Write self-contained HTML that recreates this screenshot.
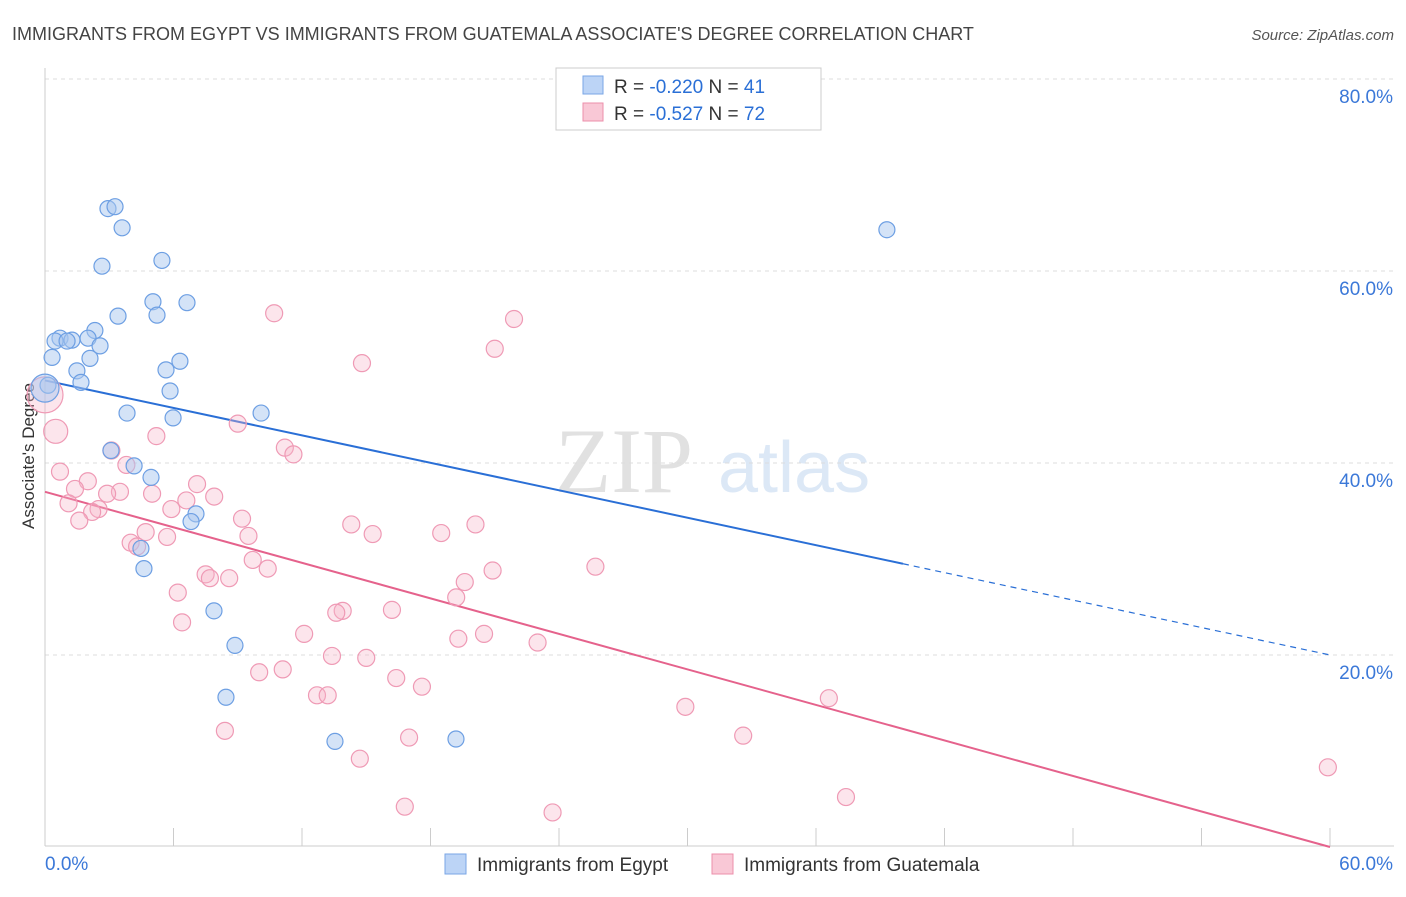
<!DOCTYPE html>
<html><head><meta charset="utf-8"><style>
body{margin:0;background:#fff;font-family:"Liberation Sans",sans-serif;}
</style></head><body>
<svg id="chart" width="1406" height="892" xmlns="http://www.w3.org/2000/svg" style="font-family:'Liberation Sans',sans-serif">
<text x="12" y="40" font-size="18" fill="#444">IMMIGRANTS FROM EGYPT VS IMMIGRANTS FROM GUATEMALA ASSOCIATE'S DEGREE CORRELATION CHART</text>
<text x="1394" y="40" font-size="15" fill="#555" text-anchor="end" font-style="italic">Source: ZipAtlas.com</text>
<text transform="translate(34,456) rotate(-90)" font-size="17" fill="#333" text-anchor="middle">Associate's Degree</text>
<g opacity="0.35">
<text x="555" y="492" font-size="92" fill="#aaa" font-family="Liberation Serif,serif">ZIP</text>
<text x="718" y="492" font-size="72" fill="#9ec0e8">atlas</text>
</g>
<g id="grid"></g><g id="axes"></g><g id="lines"></g><g id="points"></g>
<g>
<rect x="556" y="68" width="265" height="62" fill="#fff" stroke="#ccc"/>
<rect x="583" y="76" width="20" height="18" fill="#bcd4f6" stroke="#7aa6e6"/>
<text x="614" y="93" font-size="19" fill="#333">R = <tspan fill="#2a6fd6">-0.220</tspan>   N = <tspan fill="#2a6fd6">41</tspan></text>
<rect x="583" y="103" width="20" height="18" fill="#f9c8d6" stroke="#ec8fab"/>
<text x="614" y="120" font-size="19" fill="#333">R = <tspan fill="#2a6fd6">-0.527</tspan>   N = <tspan fill="#2a6fd6">72</tspan></text>
</g>
<g>
<rect x="445" y="854" width="21" height="20" fill="#bcd4f6" stroke="#7aa6e6"/>
<text x="477" y="871" font-size="19" fill="#333">Immigrants from Egypt</text>
<rect x="712" y="854" width="21" height="20" fill="#f9c8d6" stroke="#ec8fab"/>
<text x="744" y="871" font-size="19" fill="#333">Immigrants from Guatemala</text>
</g>
</svg>
<script>
const egyptX=[2.94,3.27,3.60,2.66,5.46,5.04,5.23,6.63,3.41,2.33,2.01,0.70,1.26,0.47,1.03,2.57,2.10,0.33,6.30,5.65,1.49,5.84,1.68,0.14,3.83,5.98,10.09,3.08,4.16,4.95,7.05,6.82,4.48,4.62,7.89,8.87,8.45,13.54,19.19,39.31,0];
const egyptY=[66.5,66.7,64.5,60.5,61.1,56.8,55.4,56.7,55.3,53.8,53.0,53.0,52.8,52.7,52.7,52.2,50.9,51.0,50.6,49.7,49.6,47.5,48.4,48.1,45.2,44.7,45.2,41.3,39.7,38.5,34.7,33.9,31.1,29.0,24.6,21.0,15.6,11.0,11.25,64.3,47.8];
const guatX=[10.7,21.9,14.8,21.0,9.0,5.2,3.1,11.2,11.6,3.8,0.7,2.0,1.4,3.5,5.0,7.1,2.9,7.9,1.1,2.5,2.2,5.9,1.6,6.6,9.2,14.3,15.3,20.1,18.5,4.7,5.7,9.5,4.0,4.3,9.7,25.7,20.9,10.4,7.5,7.7,8.6,19.6,6.2,19.2,13.9,13.6,16.2,6.4,12.1,20.5,19.3,23.0,13.4,15.0,10.0,11.1,16.4,17.6,12.7,13.2,36.6,29.9,8.4,32.6,17.0,14.7,59.9,37.4,16.8,23.7,0.5,0];
const guatY=[55.6,55.0,50.4,51.9,44.1,42.8,41.3,41.6,40.9,39.8,39.1,38.1,37.3,37.0,36.8,37.8,36.8,36.5,35.8,35.2,34.9,35.2,34.0,36.1,34.2,33.6,32.6,33.6,32.7,32.8,32.3,32.4,31.7,31.3,29.9,29.2,28.8,29.0,28.4,28.0,28.0,27.6,26.5,26.0,24.6,24.4,24.7,23.4,22.2,22.2,21.7,21.3,19.9,19.7,18.2,18.5,17.6,16.7,15.8,15.8,15.5,14.6,12.1,11.6,11.4,9.2,8.3,5.2,4.2,3.6,43.3,47.1];
const egyptLine=[48.6,20.0];
const guatLine=[37.0,0.0];
const yTicks=[20,40,60,80];
const xTicks=[0,6,12,18,24,30,36,42,48,54,60];
const sx=v=>45+v*(1285/60), sy=v=>847-v*9.6;
const NS="http://www.w3.org/2000/svg";
function mk(p,t,a){const e=document.createElementNS(NS,t);for(const k in a)e.setAttribute(k,a[k]);p.appendChild(e);return e;}
const grid=document.getElementById('grid'),axes=document.getElementById('axes'),lines=document.getElementById('lines'),pts=document.getElementById('points');
yTicks.forEach(t=>{const l=mk(grid,'line',{x1:45,x2:1394,y1:sy(t),y2:sy(t),stroke:'#ddd','stroke-dasharray':'4,4'});


const tx=mk(axes,'text',{x:1393,y:sy(t)+24,'font-size':19,fill:'#3b78d8','text-anchor':'end'});tx.textContent=t.toFixed(1)+'%';

});
mk(axes,'line',{x1:45,x2:45,y1:68,y2:846,stroke:'#ccc'});
mk(axes,'line',{x1:45,x2:1394,y1:846,y2:846,stroke:'#ccc'});
xTicks.forEach(t=>{const l=mk(axes,'line',{x1:sx(t),x2:sx(t),y1:828,y2:846,stroke:'#ccc'});

});
const xl0=mk(axes,'text',{x:45,y:870,'font-size':19,fill:'#3b78d8'});xl0.textContent='0.0%';


const xl1=mk(axes,'text',{x:1393,y:870,'font-size':19,fill:'#3b78d8','text-anchor':'end'});xl1.textContent='60.0%';


function ly(c,x){return c[0]+(c[1]-c[0])*x/60;}
const eEnd=40.06;
let l1=mk(lines,'line',{x1:sx(0),y1:sy(ly(egyptLine,0)),x2:sx(eEnd),y2:sy(ly(egyptLine,eEnd)),stroke:'#2a6fd6','stroke-width':2});


let l2=mk(lines,'line',{x1:sx(eEnd),y1:sy(ly(egyptLine,eEnd)),x2:sx(60),y2:sy(ly(egyptLine,60)),stroke:'#2a6fd6','stroke-width':1.2,'stroke-dasharray':'6,5'});


let l3=mk(lines,'line',{x1:sx(0),y1:sy(ly(guatLine,0)),x2:sx(60),y2:sy(ly(guatLine,60)),stroke:'#e5628c','stroke-width':2});


guatX.forEach((x,i)=>{const r=i==guatX.length-1?18:(i==guatX.length-2?12:8.5);
const c=mk(pts,'circle',{cx:sx(x),cy:sy(guatY[i]),r:r,fill:'rgba(246,180,200,0.35)',stroke:'#ef9ab5','stroke-width':1.2});

});
egyptX.forEach((x,i)=>{const r=i==egyptX.length-1?14:8;
const c=mk(pts,'circle',{cx:sx(x),cy:sy(egyptY[i]),r:r,fill:'rgba(170,200,240,0.5)',stroke:'#6d9fe3','stroke-width':1.2});

});
</script>
</body></html>
